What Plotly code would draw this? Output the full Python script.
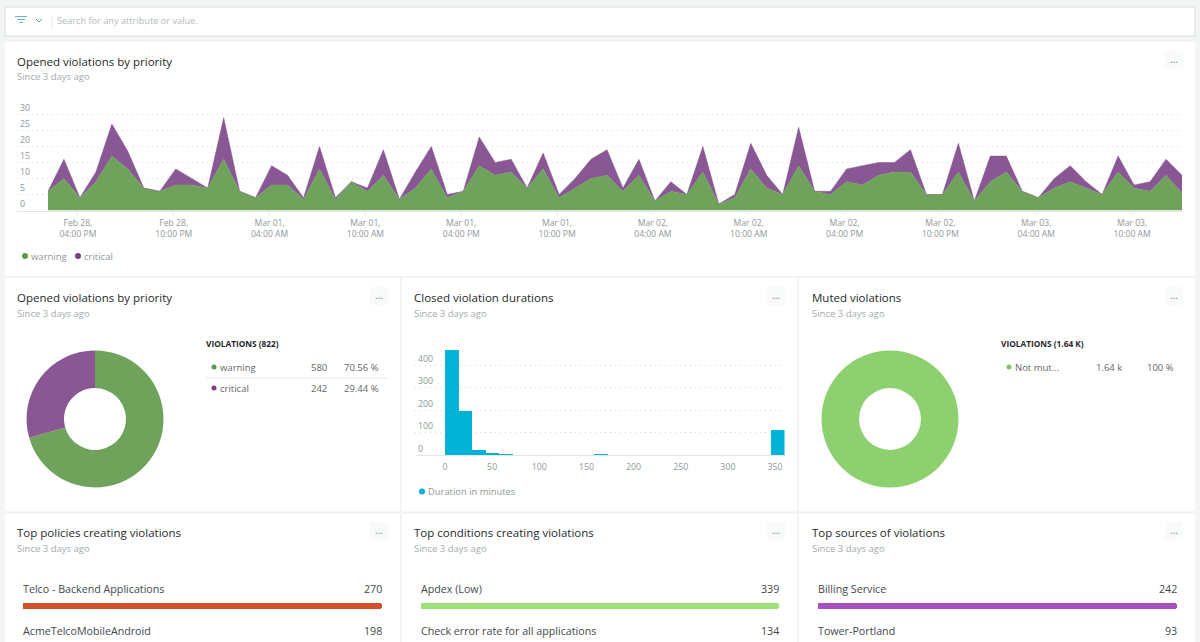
import plotly.graph_objects as go

# ---------- data ----------
hours = list(range(72))
warning = [6,10,4,9,17,13,7,6,8,8,7,16,6,4,8,8,3.5,13,3.5,9,6,11,3.5,7,13,4,6,14,11,12,7,13,4,7,10,11,6,11,3,6,5,12,2,4,13,7,5,14,6,5,9,8,11,12,12,5,5,12,3,9,12,6,4,7,9,7,5,12,7,6,11,5.5]
critical = [0,6,0,3,10,5.5,0,0,5,2,0,13,0,0,6,3,0.5,7,0.5,0,1,8,0,5,7,1,0,9,4,4,0,5,1,3,6,8,1,5,0,3,0,8,0,1,8,4,0,12,0,1,4,6,4,3,7,0,0,9,0,8,5,0,0,3,5,2,0,5,1,3,5,5.5]
tick_hours = [1.875 + 6*i for i in range(12)]
tick_labels = ["Feb 28,<br>04:00 PM","Feb 28,<br>10:00 PM","Mar 01,<br>04:00 AM","Mar 01,<br>10:00 AM",
               "Mar 01,<br>04:00 PM","Mar 01,<br>10:00 PM","Mar 02,<br>04:00 AM","Mar 02,<br>10:00 AM",
               "Mar 02,<br>04:00 PM","Mar 02,<br>10:00 PM","Mar 03,<br>04:00 AM","Mar 03,<br>10:00 AM"]
bin_width = 14.4
bin_counts = [470,200,25,12,3,0,0,0,0,0,0,3,0,0,0,0,0,0,0,0,0,0,0,0,115]
bin_centers = [bin_width*(i+0.5) for i in range(len(bin_counts))]
priority_labels = ["warning","critical"]
priority_values = [580,242]
priority_share = ["70.56 %","29.44 %"]
muted_labels = ["Not muted"]
muted_values = [1640]
policies = ["Telco - Backend Applications","AcmeTelcoMobileAndroid"]
policy_values = [270,198]
conditions = ["Apdex (Low)","Check error rate for all applications"]
condition_values = [339,134]
sources = ["Billing Service","Tower-Portland"]
source_values = [242,93]

# ---------- style ----------
W, H = 1200, 642
FONT = "Open Sans"
GREEN = "#6fa35b"; PURPLE = "#895794"; CYAN = "#00b3d7"; LIME = "#8dd06f"
TITLE = "#26292b"; SUB = "#a4abad"; AXIS = "#8f9799"; GRID = "#d5dadb"
BG = "#f3f5f5"
DOTS = "1px,4px"

def px(x): return x / W
def py(y): return 1 - y / H
def dom_x(a, b): return [px(a), px(b)]
def dom_y(top, bottom): return [py(bottom), py(top)]

fig = go.Figure()
shapes, notes = [], []

def text(x, y, s, size=10, color=AXIS, anchor="left", weight=None):
    shift = {"left": -2, "right": 2, "center": 0}[anchor]
    notes.append(dict(x=px(x), y=py(y), xref="paper", yref="paper", text=s, showarrow=False,
                      xanchor=anchor, yanchor="middle", xshift=shift, align=anchor,
                      font=dict(family=FONT, size=size, color=color, weight=weight or 400)))

def rect(x0, y0, x1, y1, fill="white", line=None):
    shapes.append(dict(type="rect", xref="paper", yref="paper", x0=px(x0), x1=px(x1), y0=py(y0), y1=py(y1),
                       fillcolor=fill, line=dict(color=line or fill, width=1 if line else 0), layer="below"))

def dot(cx, cy, color, r=3):
    shapes.append(dict(type="circle", xref="paper", yref="paper", x0=px(cx-r), x1=px(cx+r), y0=py(cy+r), y1=py(cy-r),
                       fillcolor=color, line=dict(width=0), layer="above"))

def seg(x0, y0, x1, y1, color, width=1):
    shapes.append(dict(type="line", xref="paper", yref="paper", x0=px(x0), x1=px(x1), y0=py(y0), y1=py(y1),
                       line=dict(color=color, width=width), layer="above"))

def header(x, y, title, menu_x):
    text(x, y-0.5, title, size=11.5, color=TITLE, weight=500)
    text(x, y+15, "Since 3 days ago", size=9.5, color=SUB)
    rect(menu_x, y-11, menu_x+18, y+7, fill="#f9fafa")
    text(menu_x+9, y-3, "...", size=10, color="#7f8789", anchor="center")

# panels
rect(5, 7, 1195, 36, line="#d9dddd")
rect(5, 42, 1195, 276)
for a, b in [(5,400),(402,797),(799,1195)]:
    rect(a, 278, b, 511)
    rect(a, 514, b, 642)

# search bar
seg(15, 16.5, 27, 16.5, "#6fb3bd", 1); seg(17, 19.5, 25, 19.5, "#6fb3bd", 1); seg(19, 22.5, 23, 22.5, "#6fb3bd", 1)
seg(36, 19, 39, 22, "#4f9eab", 1); seg(39, 22, 42, 19, "#4f9eab", 1)
seg(52, 15, 52, 28, "#e6e9e9", 1)
text(57, 21, "Search for any attribute or value.", size=9.2, color="#b5bbbd")

header(17, 62, "Opened violations by priority", 1165)
header(17, 298, "Opened violations by priority", 370)
header(414, 298, "Closed violation durations", 767)
header(812, 298, "Muted violations", 1165)
header(17, 533, "Top policies creating violations", 370)
header(414, 533, "Top conditions creating violations", 767)
header(812, 533, "Top sources of violations", 1165)

# area chart
fig.add_trace(go.Scatter(x=hours, y=warning, stackgroup="a", mode="lines", name="warning",
                         line=dict(color=GREEN, width=0.5), fillcolor=GREEN))
fig.add_trace(go.Scatter(x=hours, y=critical, stackgroup="a", mode="lines", name="critical",
                         line=dict(color=PURPLE, width=0.5), fillcolor=PURPLE))
axis_tick = dict(family=FONT, size=8.8, color=AXIS)
fig.update_layout(
    xaxis=dict(domain=dom_x(17, 1182), range=[-1.94, 71], tickmode="array", tickvals=tick_hours, ticktext=tick_labels,
               showgrid=False, showline=True, linecolor="#e4e7e8", ticks="outside", ticklen=3,
               tickcolor="#e4e7e8", zeroline=False, tickfont=dict(family=FONT, size=8.6, color=AXIS),
               ticklabelstandoff=1),
    yaxis=dict(domain=dom_y(98.3, 210.5), range=[0, 35.06], tickmode="array", tickvals=[0,5,10,15,20,25,30],
               ticklabelposition="inside top", showgrid=True, gridcolor=GRID, griddash=DOTS, gridwidth=1,
               showline=False, zeroline=False, tickfont=axis_tick),
)
dot(25, 256, "#5a9a46"); text(31, 256, "warning", size=9.5)
dot(78, 256, "#7c3f8c"); text(84, 256, "critical", size=9.5)

# donut 1
fig.add_trace(go.Pie(labels=priority_labels, values=priority_values, hole=0.452, sort=False, direction="clockwise",
                     rotation=0, textinfo="none", hoverinfo="label+value", showlegend=False,
                     marker=dict(colors=[GREEN, PURPLE], line=dict(width=0)),
                     domain=dict(x=dom_x(26.5, 163.5), y=dom_y(350.5, 487.5))))
text(206, 344, "VIOLATIONS (822)", size=8.3, color=TITLE, weight=700)
for i, yy in enumerate([367, 388]):
    dot(214, yy, ["#5a9a46", "#7c3f8c"][i], 2.5)
    text(220, yy, priority_labels[i], size=9.5, color="#5f6769")
    text(327, yy, str(priority_values[i]), size=9.5, color="#5f6769", anchor="right")
    text(379, yy, priority_share[i], size=9.5, color="#5f6769", anchor="right")
seg(206, 378, 388, 378, "#e4e7e8", 1)

# histogram
fig.add_trace(go.Bar(x=bin_centers, y=bin_counts, width=bin_width, marker=dict(color=CYAN, line=dict(width=0)),
                     xaxis="x2", yaxis="y2", showlegend=False))
fig.update_layout(
    xaxis2=dict(domain=dom_x(415, 784.5), range=[-31.8, 360], anchor="y2", tickmode="array",
                tickvals=[0,50,100,150,200,250,300,350], showgrid=False, showline=True, linecolor="#e4e7e8",
                ticks="", tickfont=axis_tick, zeroline=False, ticklabelstandoff=3),
    yaxis2=dict(domain=dom_y(342.5, 455), range=[0, 500], anchor="x2", tickmode="array", tickvals=[0,100,200,300,400],
                ticklabelposition="inside top", showgrid=True, gridcolor=GRID, griddash=DOTS, showline=False,
                zeroline=False, tickfont=axis_tick),
)
dot(422, 491.5, CYAN); text(428, 491.5, "Duration in minutes", size=9.4)

# donut 2
fig.add_trace(go.Pie(labels=muted_labels, values=muted_values, hole=0.452, sort=False, textinfo="none",
                     hoverinfo="label+value", showlegend=False, marker=dict(colors=[LIME], line=dict(width=0)),
                     domain=dict(x=dom_x(821.5, 958.5), y=dom_y(350.5, 487.5))))
text(1001, 344, "VIOLATIONS (1.64 K)", size=8.3, color=TITLE, weight=700)
dot(1009, 367, "#79c95c", 2.5)
text(1015, 367, "Not mut...", size=9.5, color="#5f6769")
text(1122, 367, "1.64 k", size=9.5, color="#5f6769", anchor="right")
text(1174, 367, "100 %", size=9.5, color="#5f6769", anchor="right")

# top lists
lists = [(policies, policy_values, 23, 382, "#d2502a", "3"),
         (conditions, condition_values, 421, 779, "#9ce276", "4"),
         (sources, source_values, 818, 1177, "#a94fc2", "5")]
layout_extra = {}
for names, vals, a, b, color, n in lists:
    fig.add_trace(go.Bar(x=[vals[0]], y=[names[0]], orientation="h", width=1,
                         marker=dict(color=color, line=dict(width=0), cornerradius=3),
                         xaxis="x"+n, yaxis="y"+n, showlegend=False))
    layout_extra["xaxis"+n] = dict(domain=dom_x(a, b), range=[0, vals[0]], visible=False, anchor="y"+n)
    layout_extra["yaxis"+n] = dict(domain=dom_y(603, 609), visible=False, anchor="x"+n)
    text(a, 589, names[0], size=10.7, color="#43494b")
    text(b, 589, str(vals[0]), size=10.7, color="#43494b", anchor="right")
    text(a, 631, names[1], size=10.7, color="#43494b")
    text(b, 631, str(vals[1]), size=10.7, color="#43494b", anchor="right")
fig.update_layout(**layout_extra)

fig.update_layout(width=W, height=H, margin=dict(l=0, r=0, t=0, b=0), paper_bgcolor=BG, plot_bgcolor="rgba(0,0,0,0)",
                  showlegend=False, shapes=shapes, annotations=notes, font=dict(family=FONT), bargap=0)
fig.write_html("out.html", config={"displayModeBar": False},
               post_script="document.body.style.margin='0';document.documentElement.style.overflow='hidden';")
